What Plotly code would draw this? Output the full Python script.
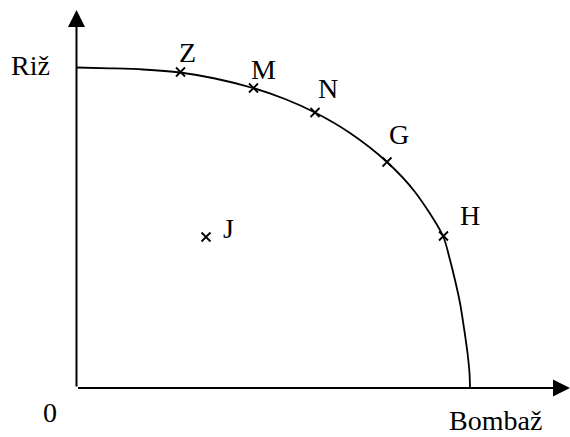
import plotly.graph_objects as go

# Production possibility frontier points (data units)
curve_x = [0, 33.5, 66.5, 103.5, 138.5, 176.5, 208.5, 238.5, 273.5, 310.5, 338.5, 366.5, 373, 378.5, 383.5, 387.5, 391, 393, 393.5]
curve_y = [320.5, 319.7, 318.5, 315.5, 309.5, 300, 289, 275.5, 255, 226, 196, 152, 130, 108, 85, 60, 35, 15, 0]

point_names = ["Z", "M", "N", "G", "H", "J"]
point_x = [104, 177, 238.5, 310.5, 367, 129.5]
point_y = [316, 300, 275.5, 226, 152, 151]

x_axis_label = "Bombaž"
y_axis_label = "Riž"
origin_label = "0"

FONT = dict(family="Liberation Serif, Times New Roman, serif", size=28, color="black")

fig = go.Figure()
fig.add_trace(go.Scatter(x=curve_x, y=curve_y, mode="lines",
                         line=dict(color="black", width=1.8, shape="spline", smoothing=0.8),
                         hoverinfo="skip", showlegend=False))
fig.add_trace(go.Scatter(x=point_x, y=point_y, mode="markers",
                         marker=dict(symbol="x-thin-open", size=9, color="black",
                                     line=dict(color="black", width=1.8)),
                         showlegend=False))

# point labels
label_dx = [6.5, 9.5, 13, 12, 26.5, 22]
label_dy = [20, 19, 24.5, 28, 21, 9]
for n, x, y, dx, dy in zip(point_names, point_x, point_y, label_dx, label_dy):
    fig.add_annotation(x=x + dx, y=y + dy, text=n, showarrow=False, font=FONT)

# axes with arrows
fig.add_annotation(x=493.5, y=0, ax=0, ay=0, axref="x", ayref="y", xref="x", yref="y",
                   text="", showarrow=True, arrowhead=2, arrowsize=1.7, arrowwidth=2, arrowcolor="black")
fig.add_annotation(x=0, y=378, ax=0, ay=0, axref="x", ayref="y", xref="x", yref="y",
                   text="", showarrow=True, arrowhead=2, arrowsize=1.7, arrowwidth=2, arrowcolor="black")

fig.add_annotation(x=-46.5, y=323, text=y_axis_label, showarrow=False, font=FONT)
fig.add_annotation(x=418.5, y=-49, yanchor="bottom", borderpad=0, text=x_axis_label,
                   showarrow=False, font=FONT)
fig.add_annotation(x=-26.5, y=-24, text=origin_label, showarrow=False, font=FONT)

fig.update_layout(width=570, height=437, margin=dict(l=0, r=0, t=0, b=0),
                  paper_bgcolor="white", plot_bgcolor="white",
                  xaxis=dict(range=[-76.5, 493.5], visible=False, fixedrange=True),
                  yaxis=dict(range=[-49, 388], visible=False, fixedrange=True),
                  showlegend=False)
fig.write_html("out.html", config={"displayModeBar": False},
               post_script="document.body.style.margin='0';document.body.style.overflow='hidden';")
